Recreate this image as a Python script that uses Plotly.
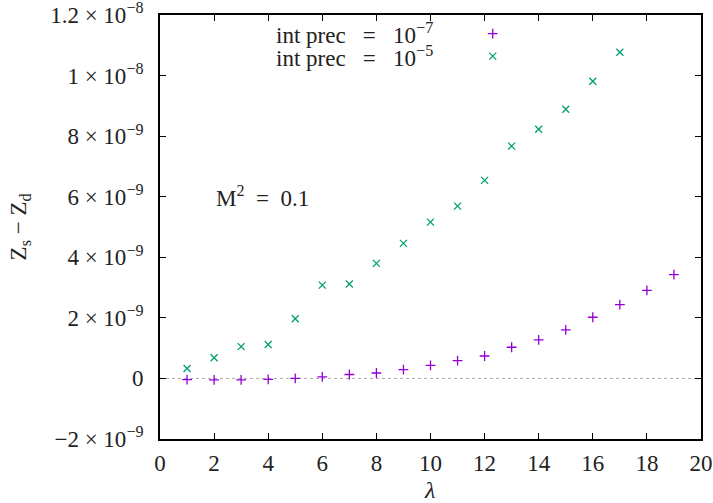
import plotly.graph_objects as go

lam_a = list(range(1, 20))
prec7 = [-0.04, -0.05, -0.05, -0.03, 0.0, 0.05, 0.13, 0.18, 0.29, 0.43, 0.59, 0.74,
         1.03, 1.27, 1.60, 2.02, 2.44, 2.91, 3.43]
lam_b = list(range(1, 18))
prec5 = [0.33, 0.68, 1.05, 1.12, 1.97, 3.08, 3.12, 3.80, 4.46, 5.16, 5.69, 6.54,
         7.67, 8.23, 8.89, 9.81, 10.77]
scale = 1e-9
S = "\u00a0"
y_tickvals = [-2e-9, 0, 2e-9, 4e-9, 6e-9, 8e-9, 1e-8, 1.2e-8]
y_ticktext = [f"−2{S}×{S}10<sup>−9</sup>", "0", f"2{S}×{S}10<sup>−9</sup>",
              f"4{S}×{S}10<sup>−9</sup>", f"6{S}×{S}10<sup>−9</sup>",
              f"8{S}×{S}10<sup>−9</sup>", f"1{S}×{S}10<sup>−8</sup>",
              f"1.2{S}×{S}10<sup>−8</sup>"]
x_tickvals = list(range(0, 21, 2))
legend_labels = [f"int prec{S*3}={S*3}10<sup>−7</sup>", f"int prec{S*3}={S*3}10<sup>−5</sup>"]

PURPLE = "#9400D3"
GREEN = "#009E73"
FONT = "Liberation Serif"
FS = 23
TXT = "#222222"

fig = go.Figure()
fig.add_trace(go.Scatter(x=lam_a, y=[v * scale for v in prec7], mode="markers",
                         marker=dict(symbol="cross-thin-open", size=7, color=PURPLE,
                                     line=dict(color=PURPLE, width=1.3)),
                         showlegend=False))
fig.add_trace(go.Scatter(x=lam_b, y=[v * scale for v in prec5], mode="markers",
                         marker=dict(symbol="x-thin-open", size=7, color=GREEN,
                                     line=dict(color=GREEN, width=1.3)),
                         showlegend=False))
# legend samples on an overlay axis (0..1 paper-like)
fig.add_trace(go.Scatter(x=[0.615, 0.615], y=[0.956, 0.903], mode="markers",
                         xaxis="x2", yaxis="y2", showlegend=False,
                         marker=dict(symbol=["cross-thin-open", "x-thin-open"], size=7,
                                     color=[PURPLE, GREEN],
                                     line=dict(color=[PURPLE, GREEN], width=1.3))))

fig.add_shape(type="line", xref="paper", x0=0, x1=1, yref="y", y0=0, y1=0,
              line=dict(color="#aaaaaa", width=1, dash="dot"), layer="below")

axis_common = dict(showline=True, linecolor="black", linewidth=1.8, mirror="allticks",
                   ticks="inside", ticklen=6, tickwidth=1, tickcolor="black",
                   showgrid=False, zeroline=False, automargin=False,
                   ticklabeloverflow="allow",
                   tickfont=dict(family=FONT, size=FS, color=TXT))
fig.update_layout(
    width=713, height=503,
    margin=dict(l=160, r=12, t=15, b=64),
    paper_bgcolor="white", plot_bgcolor="white",
    xaxis=dict(range=[0, 20], tickvals=x_tickvals, ticklabelstandoff=2, **axis_common),
    yaxis=dict(range=[-2e-9, 1.2e-8], tickvals=y_tickvals, ticktext=y_ticktext,
               ticklabelstandoff=10, **axis_common),
    xaxis2=dict(overlaying="x", range=[0, 1], visible=False),
    yaxis2=dict(overlaying="y", range=[0, 1], visible=False),
    font=dict(family=FONT, color=TXT),
)

for lbl, yy in zip(legend_labels, [0.956, 0.903]):
    fig.add_annotation(text=lbl, xref="paper", yref="paper", x=0.211, y=yy,
                       xanchor="left", yanchor="middle", showarrow=False,
                       font=dict(family=FONT, size=FS, color=TXT))
fig.add_annotation(text=f"M<sup>2</sup>{S*2}={S*2}0.1", xref="paper", yref="paper", x=0.19, y=0.572,
                   xanchor="center", yanchor="middle", showarrow=False,
                   font=dict(family=FONT, size=FS, color=TXT))
fig.add_annotation(text=f"Z<sub>s</sub>{S}−{S}Z<sub>d</sub>", xref="paper", yref="paper",
                   x=-0.258, y=0.5, textangle=-90, xanchor="center", yanchor="middle",
                   showarrow=False, font=dict(family=FONT, size=FS, color=TXT))
fig.add_annotation(text="<i>λ</i>", xref="paper", yref="paper", x=0.499, y=-0.12,
                   xanchor="center", yanchor="middle", showarrow=False,
                   font=dict(family=FONT, size=FS + 1, color=TXT))

fig.write_html("out.html")
